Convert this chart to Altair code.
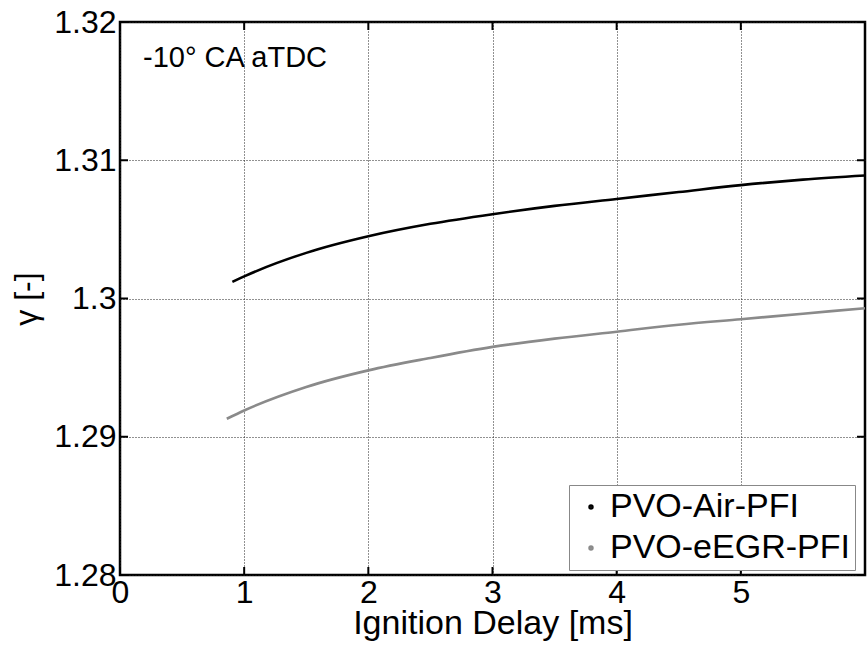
import altair as alt
import pandas as pd

# ---- data ----
air_x = [0.905, 1.0, 1.5, 2.0, 2.5, 3.0, 3.5, 4.0, 4.5, 5.0, 5.5, 6.0]
air_y = [1.3012, 1.3016, 1.3033, 1.3045, 1.3054, 1.3061, 1.3067, 1.3072, 1.3077, 1.3082, 1.3086, 1.3089]
egr_x = [0.86, 1.0, 1.5, 2.0, 2.5, 3.0, 3.5, 4.0, 4.5, 5.0, 5.5, 6.0]
egr_y = [1.2913, 1.2919, 1.2936, 1.2948, 1.2957, 1.2965, 1.2971, 1.2976, 1.2981, 1.2985, 1.2989, 1.2993]
series_names = ["PVO-Air-PFI", "PVO-eEGR-PFI"]
series_colors = ["#000000", "#8a8a8a"]
x_ticks = [0, 1, 2, 3, 4, 5]
y_ticks = [1.28, 1.29, 1.30, 1.31, 1.32]
x_title = "Ignition Delay [ms]"
y_title = "γ [-]"
annotation = "-10° CA aTDC"

W, H = 745, 553
FONT = "Liberation Sans"

df = pd.concat([
    pd.DataFrame({"x": air_x, "y": air_y, "s": series_names[0]}),
    pd.DataFrame({"x": egr_x, "y": egr_y, "s": series_names[1]}),
])

xs = alt.Scale(domain=[0, 6], nice=False, zero=False)
ys = alt.Scale(domain=[1.28, 1.32], nice=False, zero=False)
x_axis = alt.Axis(values=x_ticks, labelFlush=False, tickSize=0, labelPadding=2,
                  titleBaseline="alphabetic", titleY=58, titlePadding=0)
y_axis = alt.Axis(values=y_ticks, format="~g", tickSize=0, labelPadding=4,
                  titleX=-77, titleY=H / 2, titleAngle=270, titleBaseline="bottom",
                  titleAlign="center", titleFontSize=32)

lines = alt.Chart(df).mark_line(strokeWidth=2.6, interpolate="monotone").encode(
    x=alt.X("x:Q", scale=xs, title=x_title, axis=x_axis),
    y=alt.Y("y:Q", scale=ys, title=y_title, axis=y_axis),
    color=alt.Color("s:N", scale=alt.Scale(domain=series_names, range=series_colors),
                    legend=alt.Legend(title=None, orient="none", legendX=449, legendY=463,
                                      symbolType="circle", symbolSize=6, symbolStrokeWidth=3,
                                      symbolOffset=0, labelOffset=2)),
)

tx = pd.DataFrame({"x": x_ticks})
ty = pd.DataFrame({"y": y_ticks})
tick_b = alt.Chart(tx).mark_rule(color="black", strokeWidth=2).encode(
    x=alt.X("x:Q", scale=xs, title=x_title, axis=x_axis), y=alt.value(H), y2=alt.value(H - 8))
tick_t = alt.Chart(tx).mark_rule(color="black", strokeWidth=2).encode(
    x=alt.X("x:Q", scale=xs, title=x_title, axis=x_axis), y=alt.value(0), y2=alt.value(8))
tick_l = alt.Chart(ty).mark_rule(color="black", strokeWidth=2).encode(
    y=alt.Y("y:Q", scale=ys, title=y_title, axis=y_axis), x=alt.value(0), x2=alt.value(8))
tick_r = alt.Chart(ty).mark_rule(color="black", strokeWidth=2).encode(
    y=alt.Y("y:Q", scale=ys, title=y_title, axis=y_axis), x=alt.value(W), x2=alt.value(W - 8))

ann = alt.Chart(pd.DataFrame({"label": [annotation]})).mark_text(
    align="left", baseline="alphabetic", fontSize=29, font=FONT, color="black"
).encode(x=alt.value(23), y=alt.value(45), text="label:N")

chart = alt.layer(lines, tick_b, tick_t, tick_l, tick_r, ann).properties(
    width=W, height=H,
    autosize=alt.AutoSizeParams(type="none"),
    padding={"left": 120, "top": 22, "right": 2, "bottom": 81},
    background="white",
).configure_view(
    stroke="black", strokeWidth=2.5
).configure_axis(
    labelFont=FONT, titleFont=FONT, labelFontSize=32, titleFontSize=34,
    labelColor="black", titleColor="black", titleFontWeight="normal",
    domain=False, grid=True, gridColor="#222222", gridDash=[1, 2], gridWidth=1, gridOpacity=1,
).configure_legend(
    labelFont=FONT, labelFontSize=34, labelColor="black",
    strokeColor="#888888", fillColor="white", padding=5, rowPadding=7, cornerRadius=0,
    labelLimit=400,
)

chart.save("out.html", embed_options={"renderer": "svg", "actions": False})
